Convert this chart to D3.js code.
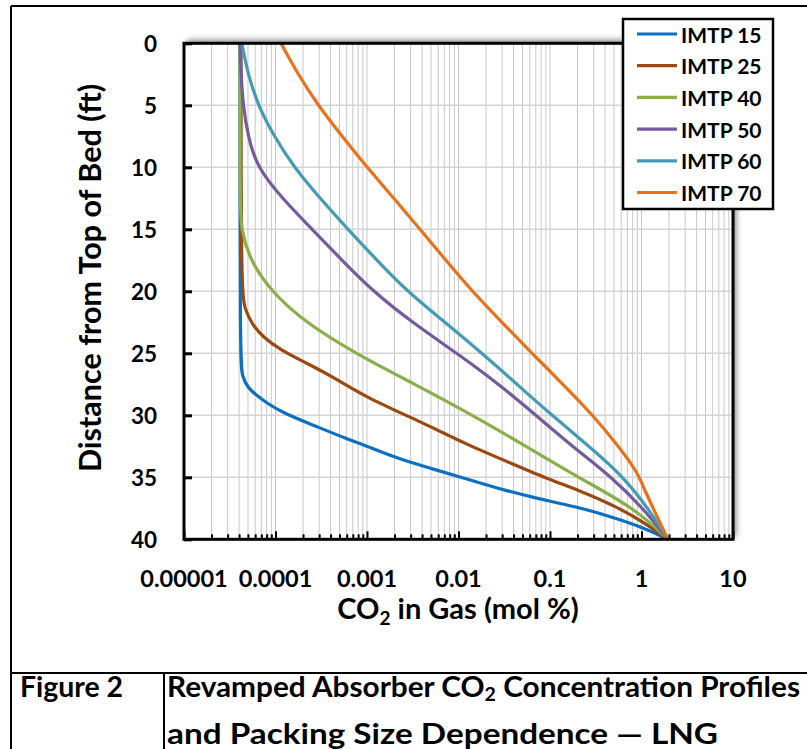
<!DOCTYPE html>
<html>
<head>
<meta charset="utf-8">
<script src="https://cdnjs.cloudflare.com/ajax/libs/d3/7.8.5/d3.min.js"></script>
<style>
    body { margin: 0; background: #fff; }
    text { font-family: Lato, "Open Sans", sans-serif; font-weight: bold; fill: #000; }
</style>
</head>
<body>
<script>
// depth (ft) and CO2 (mol %)
var seriesNames = ["IMTP 15", "IMTP 25", "IMTP 40", "IMTP 50", "IMTP 60", "IMTP 70"];
var seriesColors = ["#0b70c2", "#9c4811", "#8bae4b", "#735b9c", "#449bb6", "#e8721c"];

var depth15 = [0, 25.3, 26.9, 27.8, 28.5, 29.0, 29.8, 30.8, 31.9, 32.6, 33.5, 34.3, 35.1, 35.9, 36.6, 37.4, 38.2, 39.1, 40];
var co2_15 = [4.1e-5, 4.1e-5, 4.3e-5, 5.0e-5, 6.5e-5, 8.0e-5, 1.2e-4, 2.6e-4, 6.0e-4, 1.1e-3, 2.2e-3, 5.1e-3, 0.0118, 0.027, 0.063, 0.20, 0.48, 1.09, 1.95];

var depth25 = [0, 19.9, 21.5, 22.6, 23.7, 24.7, 25.8, 26.9, 28.6, 30.6, 32.3, 33.9, 35.2, 36.0, 37.4, 38.7, 40];
var co2_25 = [4.2e-5, 4.2e-5, 4.65e-5, 5.5e-5, 7.3e-5, 1.12e-4, 2.2e-4, 4.25e-4, 1.0e-3, 4.1e-3, 0.0118, 0.0385, 0.10, 0.20, 0.55, 1.09, 1.95];

var depth40 = [0, 13, 15, 17.5, 20, 22.5, 25, 27.5, 30, 32.5, 35, 37.5, 40];
var co2_40 = [4.09e-5, 4.09e-5, 4.2e-5, 5.26e-5, 8.93e-5, 2.1e-4, 7.4e-4, 3.35e-3, 0.0144, 0.0547, 0.202, 0.849, 1.95];

var depth50 = [0, 2.5, 5, 7.5, 10, 12.5, 15, 17.5, 20, 22.5, 25, 27.5, 30, 32.5, 35, 37.5, 40];
var co2_50 = [4.09e-5, 4.2e-5, 4.42e-5, 5.0e-5, 6.28e-5, 1.18e-4, 2.51e-4, 5.33e-4, 1.16e-3, 3.1e-3, 9.64e-3, 0.0277, 0.0703, 0.174, 0.476, 1.04, 1.95];

var depth60 = [0, 2.5, 5, 7.5, 10, 12.5, 15, 17.5, 20, 22.5, 25, 27.5, 30, 32.5, 35, 37.5, 40];
var co2_60 = [4.28e-5, 5.0e-5, 6.44e-5, 9.64e-5, 1.59e-4, 3.06e-4, 6.19e-4, 1.285e-3, 2.74e-3, 7.11e-3, 0.0181, 0.0436, 0.105, 0.267, 0.644, 1.178, 1.95];

var depth70 = [0, 2.5, 5, 7.5, 10, 12.5, 15, 17.5, 20, 22.5, 25, 27.5, 30, 32.5, 34, 35, 36, 38, 40];
var co2_70 = [1.148e-4, 1.76e-4, 2.91e-4, 5.33e-4, 1.0e-3, 1.97e-3, 3.79e-3, 7.29e-3, 0.01406, 0.0298, 0.0635, 0.1387, 0.295, 0.56, 0.79, 0.95, 1.08, 1.44, 1.95];

var xTickValues = [1e-5, 1e-4, 1e-3, 0.01, 0.1, 1, 10];
var xTickLabels = ["0.00001", "0.0001", "0.001", "0.01", "0.1", "1", "10"];
var yTickValues = [0, 5, 10, 15, 20, 25, 30, 35, 40];

var allDepths = [depth15, depth25, depth40, depth50, depth60, depth70];
var allValues = [co2_15, co2_25, co2_40, co2_50, co2_60, co2_70];

var W = 807, H = 749;
var plot = { left: 184, right: 733, top: 43.3, bottom: 539.3 };

var svg = d3.select("body").append("svg")
    .attr("width", W)
    .attr("height", H);

var defs = svg.append("defs");
var shadow = defs.append("filter").attr("id", "shadow")
    .attr("x", "-10%").attr("y", "-10%").attr("width", "120%").attr("height", "120%");
shadow.append("feDropShadow")
    .attr("dx", 3).attr("dy", -3)
    .attr("stdDeviation", 3)
    .attr("flood-color", "#000")
    .attr("flood-opacity", 0.5);

// outer frame of the figure
var frame = svg.append("g").attr("stroke", "#000").attr("stroke-width", 2);
frame.append("line").attr("x1", 11).attr("y1", 6).attr("x2", W).attr("y2", 6);
frame.append("line").attr("x1", 11).attr("y1", 6).attr("x2", 11).attr("y2", H);
frame.append("line").attr("x1", 11).attr("y1", 673).attr("x2", W).attr("y2", 673);
frame.append("line").attr("x1", 164).attr("y1", 673).attr("x2", 164).attr("y2", H);

var x = d3.scaleLog().domain([1e-5, 10]).range([plot.left, plot.right]);
var y = d3.scaleLinear().domain([0, 40]).range([plot.top, plot.bottom]);

// plot background with shadow
svg.append("rect")
    .attr("x", plot.left).attr("y", plot.top)
    .attr("width", plot.right - plot.left).attr("height", plot.bottom - plot.top)
    .attr("fill", "#fff")
    .attr("filter", "url(#shadow)");

var minorTicks = [];
for (var d = 1e-5; d < 10; d *= 10) {
    for (var k = 1; k <= 9; k++) minorTicks.push(k * d);
}
minorTicks.push(10);

// gridlines
var grid = svg.append("g");
grid.selectAll("line.v").data(minorTicks).enter().append("line")
    .attr("x1", function (v) { return x(v); })
    .attr("x2", function (v) { return x(v); })
    .attr("y1", plot.top).attr("y2", plot.bottom)
    .attr("stroke", "#c8c8c8").attr("stroke-width", 1);
grid.selectAll("line.h").data(yTickValues).enter().append("line")
    .attr("x1", plot.left).attr("x2", plot.right)
    .attr("y1", function (v) { return y(v); })
    .attr("y2", function (v) { return y(v); })
    .attr("stroke", "#d4d4d4").attr("stroke-width", 1.5);

// curves
var line = d3.line()
    .x(function (p) { return x(p[1]); })
    .y(function (p) { return y(p[0]); })
    .curve(d3.curveBasis);

seriesNames.forEach(function (name, i) {
    var pts = allDepths[i].map(function (dd, j) { return [dd, allValues[i][j]]; });
    svg.append("path")
        .datum(pts)
        .attr("d", line)
        .attr("fill", "none")
        .attr("stroke", seriesColors[i])
        .attr("stroke-width", 3.2)
        .attr("stroke-linejoin", "round");
});

// plot border
svg.append("rect")
    .attr("x", plot.left).attr("y", plot.top)
    .attr("width", plot.right - plot.left).attr("height", plot.bottom - plot.top)
    .attr("fill", "none")
    .attr("stroke", "#000")
    .attr("stroke-width", 3);

// x axis (ticks pointing inward)
var xAxis = d3.axisTop(x)
    .tickValues(minorTicks)
    .tickSize(4)
    .tickFormat("");
var gx = svg.append("g")
    .attr("transform", "translate(0," + plot.bottom + ")")
    .call(xAxis);
gx.select(".domain").remove();
gx.selectAll(".tick line")
    .attr("stroke", "#000").attr("stroke-width", 2)
    .attr("y2", function (v) { return xTickValues.indexOf(v) >= 0 ? -8 : -5; });

svg.append("g").selectAll("text").data(xTickValues).enter().append("text")
    .attr("x", function (v) { return x(v); })
    .attr("y", 578)
    .attr("text-anchor", "middle")
    .attr("dominant-baseline", "central")
    .attr("font-size", 23.5)
    .text(function (v, i) { return xTickLabels[i]; });

// y axis (ticks pointing inward)
var yAxis = d3.axisRight(y)
    .tickValues(yTickValues)
    .tickSize(8)
    .tickFormat("");
var gy = svg.append("g")
    .attr("transform", "translate(" + plot.left + ",0)")
    .call(yAxis);
gy.select(".domain").remove();
gy.selectAll(".tick line").attr("stroke", "#000").attr("stroke-width", 3);

svg.append("g").selectAll("text").data(yTickValues).enter().append("text")
    .attr("x", 157)
    .attr("y", function (v) { return y(v); })
    .attr("text-anchor", "end")
    .attr("dominant-baseline", "central")
    .attr("font-size", 22.5)
    .text(function (v) { return v; });

// axis titles
svg.append("text")
    .attr("transform", "translate(89,278) rotate(-90)")
    .attr("text-anchor", "middle")
    .attr("dominant-baseline", "central")
    .attr("font-size", 30.5)
    .text("Distance from Top of Bed (ft)");

var xt = svg.append("text")
    .attr("x", 458).attr("y", 619)
    .attr("text-anchor", "middle")
    .attr("font-size", 29);
xt.append("tspan").text("CO");
xt.append("tspan").attr("font-size", 19).attr("dy", 6).text("2");
xt.append("tspan").attr("dy", -6).text(" in Gas (mol %)");

// legend
var legend = svg.append("g");
legend.append("rect")
    .attr("x", 623).attr("y", 19)
    .attr("width", 150).attr("height", 190)
    .attr("fill", "#fff")
    .attr("stroke", "#000").attr("stroke-width", 2.5);
var item = legend.selectAll("g.item").data(seriesNames).enter().append("g")
    .attr("transform", function (n, i) { return "translate(0," + (34 + i * 31.7) + ")"; });
item.append("line")
    .attr("x1", 637).attr("x2", 677)
    .attr("stroke", function (n, i) { return seriesColors[i]; })
    .attr("stroke-width", 3.2);
item.append("text")
    .attr("x", 681)
    .attr("dominant-baseline", "central")
    .attr("font-size", 21)
    .text(function (n) { return n; });

// caption (first line is justified in the source table)
svg.append("text").attr("x", 20).attr("y", 697).attr("font-size", 29)
    .attr("textLength", 103).attr("lengthAdjust", "spacingAndGlyphs")
    .text("Figure 2");
var cap1 = svg.append("text").attr("x", 167).attr("y", 697).attr("font-size", 29)
    .attr("textLength", 633).attr("lengthAdjust", "spacingAndGlyphs");
cap1.append("tspan").text("Revamped Absorber CO");
cap1.append("tspan").attr("font-size", 19).attr("dy", 4).text("2");
cap1.append("tspan").attr("dy", -4).text(" Concentration Profiles");
svg.append("text").attr("x", 167).attr("y", 744).attr("font-size", 29)
    .attr("textLength", 551).attr("lengthAdjust", "spacingAndGlyphs")
    .text("and Packing Size Dependence \u2014 LNG");
</script>
</body>
</html>
